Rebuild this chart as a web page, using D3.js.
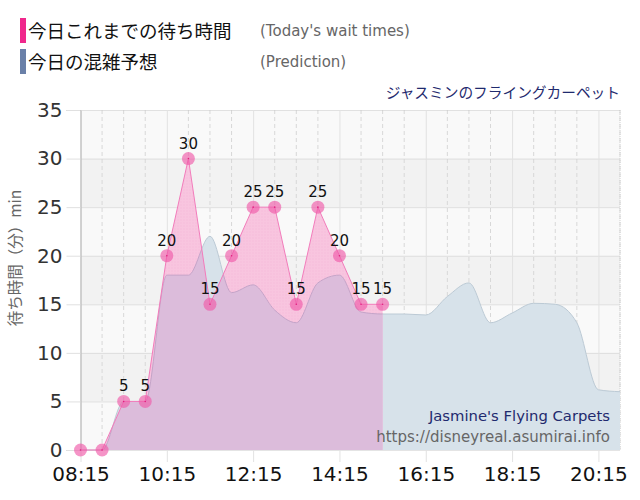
<!DOCTYPE html>
<html><head><meta charset="utf-8">
<script src="https://cdn.jsdelivr.net/npm/d3@7"></script>
<style>
body{margin:0;background:#fff;}
svg{display:block;}
</style></head>
<body>
<svg id="chart" width="640" height="500"></svg>
<script>
// ---- data ----
const actualTimes = ["08:15","08:45","09:15","09:45","10:15","10:45","11:15","11:45","12:15","12:45","13:15","13:45","14:15","14:45","15:15"];
const actualValues = [0,0,5,5,20,30,15,20,25,25,15,25,20,15,15];
const predTimes = ["08:15","08:45","09:15","09:45","10:15","10:45","11:15","11:45","12:15","12:45","13:15","13:45","14:15","14:45","15:15","15:45","16:15","16:45","17:15","17:45","18:15","18:45","19:15","19:45","20:15","20:45"];
const predValues = [0,0,5,5,18,18,22,16.2,17,14.4,13.1,17.2,18,14.2,14,14,13.9,15.8,17.2,13.1,14.1,15.1,15,13.1,6.2,6];
const xTickLabels = ["08:15","10:15","12:15","14:15","16:15","18:15","20:15"];
const yTicks = [0,5,10,15,20,25,30,35];
const legendLabels = ["今日これまでの待ち時間","今日の混雑予想"];
const legendSub = ["(Today's wait times)","(Prediction)"];
const titleText = "ジャスミンのフライングカーペット";
const nameEn = "Jasmine's Flying Carpets";
const siteUrl = "https://disneyreal.asumirai.info";
const yLabel = "待ち時間（分）min";

// ---- helpers ----
const toMin = s => { const [h,m]=s.split(":").map(Number); return h*60+m; };
const actual = actualTimes.map((t,i)=>({t:toMin(t), v:actualValues[i]}));
const pred = predTimes.map((t,i)=>({t:toMin(t), v:predValues[i]}));

const L=80.5, R=620, T=110, B=450;
const x = d3.scaleLinear().domain([toMin("08:15"), toMin("20:45")]).range([L,R]);
const y = d3.scaleLinear().domain([0,35]).range([B,T]);

const svg = d3.select("#chart");
const defs = svg.append("defs");
const pat = defs.append("pattern").attr("id","dots").attr("width",3).attr("height",3).attr("patternUnits","userSpaceOnUse");
pat.append("rect").attr("width",3).attr("height",3).attr("fill","#f8c5df");
pat.append("circle").attr("cx",1).attr("cy",1).attr("r",0.45).attr("fill","#f2a6cf");

// bands
const bands = d3.range(0,35,5);
svg.append("g").selectAll("rect").data(bands).join("rect")
  .attr("x",L).attr("width",R-L)
  .attr("y",d=>y(d+5)).attr("height",d=>y(d)-y(d+5))
  .attr("fill",(d,i)=> (d/5)%2===1 ? "#f2f2f2" : "#f9f9f9");

// vertical grid every 30 min
const halfHours = d3.range(toMin("08:15"), toMin("20:45")+1, 30);
svg.append("g").selectAll("line").data(halfHours.filter(m=>((m-toMin("08:15"))%120)!==0)).join("line")
  .attr("x1",d=>x(d)).attr("x2",d=>x(d)).attr("y1",T).attr("y2",B)
  .attr("stroke","#d8d8d8").attr("stroke-dasharray","4,3").attr("stroke-width",1);
// right border dotted
svg.append("line").attr("x1",R).attr("x2",R).attr("y1",T).attr("y2",B)
  .attr("stroke","#d0d0d0").attr("stroke-dasharray","1,1");

// horizontal grid (axis-based)
const yGrid = d3.axisLeft(y).tickValues(yTicks).tickSize(-(R-L)).tickFormat("");
const gg = svg.append("g").attr("transform",`translate(${L},0)`).call(yGrid);
gg.select(".domain").remove();
gg.selectAll("line").attr("stroke","#c8c8c8").attr("stroke-dasharray","1,1");

// 2h solid grid + ticks through x axis
const gx0 = svg.append("g").attr("transform",`translate(0,${B+12})`).call(d3.axisBottom(x).tickValues(xTickLabels.map(toMin)).tickSize(-(B-T+12)).tickFormat(""));
gx0.select(".domain").remove();
gx0.selectAll("line").attr("stroke","#e2e2e2");

// areas
const predArea = d3.area().x(d=>x(d.t)).y0(B).y1(d=>y(d.v)).curve(d3.curveMonotoneX);
const predLine = d3.line().x(d=>x(d.t)).y(d=>y(d.v)).curve(d3.curveMonotoneX);
const actArea = d3.area().x(d=>x(d.t)).y0(B).y1(d=>y(d.v));
const actLine = d3.line().x(d=>x(d.t)).y(d=>y(d.v));

svg.append("path").datum(pred).attr("d",predArea).attr("fill","#d7e2ea");
svg.append("path").datum(pred).attr("d",predLine).attr("fill","none").attr("stroke","#bccad5").attr("stroke-width",1);

svg.append("path").datum(actual).attr("d",actArea).attr("fill","url(#dots)");

defs.append("clipPath").attr("id","actClip").append("path").datum(actual).attr("d",actArea);
const gc = svg.append("g").attr("clip-path","url(#actClip)");
gc.append("path").datum(pred).attr("d",predArea).attr("fill","#dcbcdb");
gc.append("path").datum(pred).attr("d",predLine).attr("fill","none").attr("stroke","#c4a4c8").attr("stroke-width",1);

svg.append("path").datum(actual).attr("d",actLine).attr("fill","none").attr("stroke","#f27cbb").attr("stroke-width",1);

// y axis
const gy = svg.append("g").attr("transform",`translate(${L},0)`).call(d3.axisLeft(y).tickValues(yTicks).tickSize(14).tickPadding(4));
gy.select(".domain").attr("stroke","#b4b4b4");
gy.selectAll(".tick line").attr("stroke","#e0e0e0");
gy.selectAll(".tick text").attr("font-family","DejaVu Sans, Verdana, sans-serif").attr("font-size",20).attr("fill","#333");

// x axis labels
const gxl = svg.append("g").attr("transform",`translate(0,${B})`).call(d3.axisBottom(x).tickValues(xTickLabels.map(toMin)).tickSize(0).tickPadding(17).tickFormat((d,i)=>xTickLabels[i]));
gxl.select(".domain").remove();
gxl.selectAll(".tick text").attr("font-family","DejaVu Sans, Verdana, sans-serif").attr("font-size",20).attr("fill","#111");

// markers
svg.append("g").selectAll("circle").data(actual).join("circle")
  .attr("cx",d=>x(d.t)).attr("cy",d=>y(d.v)).attr("r",6.5)
  .attr("fill","#ef5aa9").attr("fill-opacity",0.65);
svg.append("g").selectAll("circle").data(actual).join("circle")
  .attr("cx",d=>x(d.t)).attr("cy",d=>y(d.v)).attr("r",0.8)
  .attr("fill","#e0207f");
// value labels (skip zeros)
svg.append("g").selectAll("text").data(actual.filter(d=>d.v>0)).join("text")
  .attr("x",d=>x(d.t)).attr("y",d=>y(d.v)-10).attr("text-anchor","middle")
  .attr("font-family","DejaVu Sans, Verdana, sans-serif").attr("font-size",15).attr("fill","#111")
  .text(d=>d.v);

// legend
const legColors = ["#f0288c","#6a80a8"];
legendLabels.forEach((lab,i)=>{
  const yy = 18 + i*31;
  svg.append("rect").attr("x",20).attr("y",yy).attr("width",6).attr("height",25).attr("fill",legColors[i]);
  svg.append("text").attr("x",28).attr("y",yy+20).attr("font-family","Noto Sans CJK JP, sans-serif")
    .attr("font-size",18.5).attr("fill","#111").text(lab);
  svg.append("text").attr("x",260).attr("y",yy+18).attr("font-family","DejaVu Sans, Verdana, sans-serif")
    .attr("font-size",15).attr("fill","#666").text(legendSub[i]);
});

// titles
svg.append("text").attr("x",620).attr("y",98).attr("text-anchor","end")
  .attr("font-family","Noto Sans CJK JP, sans-serif").attr("font-size",14.7).attr("fill","#1f2a6e").text(titleText);
svg.append("text").attr("x",610).attr("y",421).attr("text-anchor","end")
  .attr("font-family","DejaVu Sans, Verdana, sans-serif").attr("font-size",14.8).attr("fill","#1f2a6e").text(nameEn);
svg.append("text").attr("x",610).attr("y",442).attr("text-anchor","end")
  .attr("font-family","DejaVu Sans, Verdana, sans-serif").attr("font-size",15).attr("fill","#666").text(siteUrl);

// y label
svg.append("text").attr("transform","translate(21,258) rotate(-90)").attr("text-anchor","middle")
  .attr("font-family","Noto Sans CJK JP, sans-serif").attr("font-size",15.5).attr("fill","#666").text(yLabel);
</script>
</body></html>
